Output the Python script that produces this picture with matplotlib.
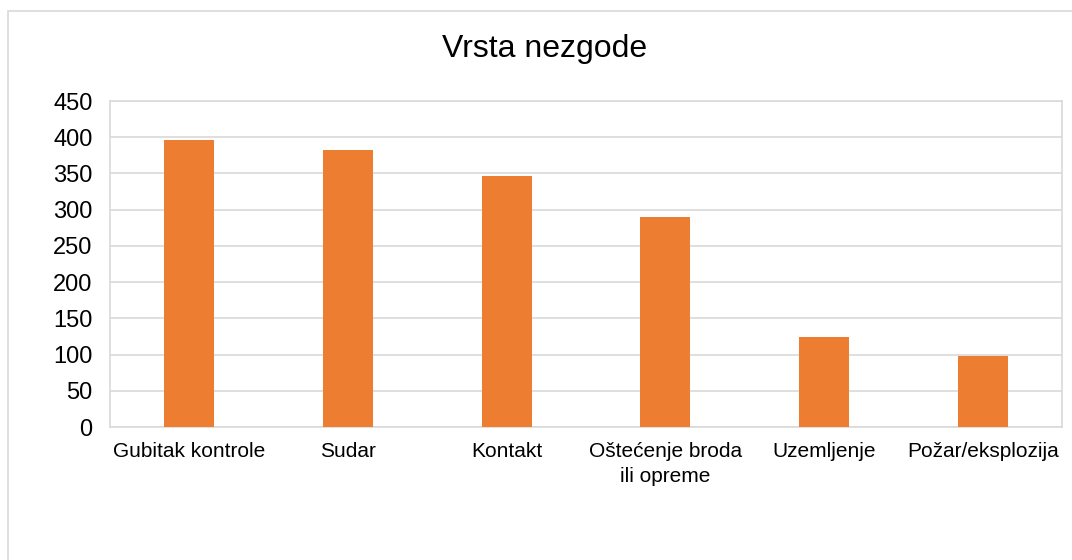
import matplotlib
matplotlib.use('Agg')
import matplotlib.pyplot as plt
from matplotlib.patches import Rectangle

categories = ['Gubitak kontrole', 'Sudar', 'Kontakt', 'Oštećenje broda\nili opreme', 'Uzemljenje', 'Požar/eksplozija']
values = [396, 383, 347, 290, 124, 98]
yticks = [0, 50, 100, 150, 200, 250, 300, 350, 400, 450]

plt.rcParams['font.family'] = ['Liberation Sans', 'DejaVu Sans']

fig = plt.figure(figsize=(10.72, 5.6), dpi=100)
fig.patches.append(Rectangle((8 / 1072, -0.1), 1.2, 1 - 11 / 560 + 0.1, transform=fig.transFigure,
                             fill=False, edgecolor='#d9d9d9', linewidth=1.2))

ax = fig.add_axes([110 / 1072, 1 - 427 / 560, 952 / 1072, 326 / 560])
x = range(len(categories))
ax.bar(x, values, width=0.315, color='#ed7d31', zorder=3)
ax.set_xlim(-0.5, len(categories) - 0.5)
ax.set_ylim(0, 450)
ax.set_yticks(yticks)
ax.set_xticks(list(x))
ax.set_xticklabels(categories, fontsize=15, linespacing=1.4)
ax.tick_params(axis='y', labelsize=17, length=0, pad=12.5)
ax.tick_params(axis='x', length=0, pad=11)
ax.grid(axis='y', color='#d9d9d9', linewidth=1.2, zorder=0)
for s in ax.spines.values():
    s.set_color('#d9d9d9')
    s.set_linewidth(1.2)

fig.text(545 / 1072, 1 - 49 / 560, 'Vrsta nezgode', ha='center', va='center', fontsize=23)

fig.savefig('out.png', dpi=100)
